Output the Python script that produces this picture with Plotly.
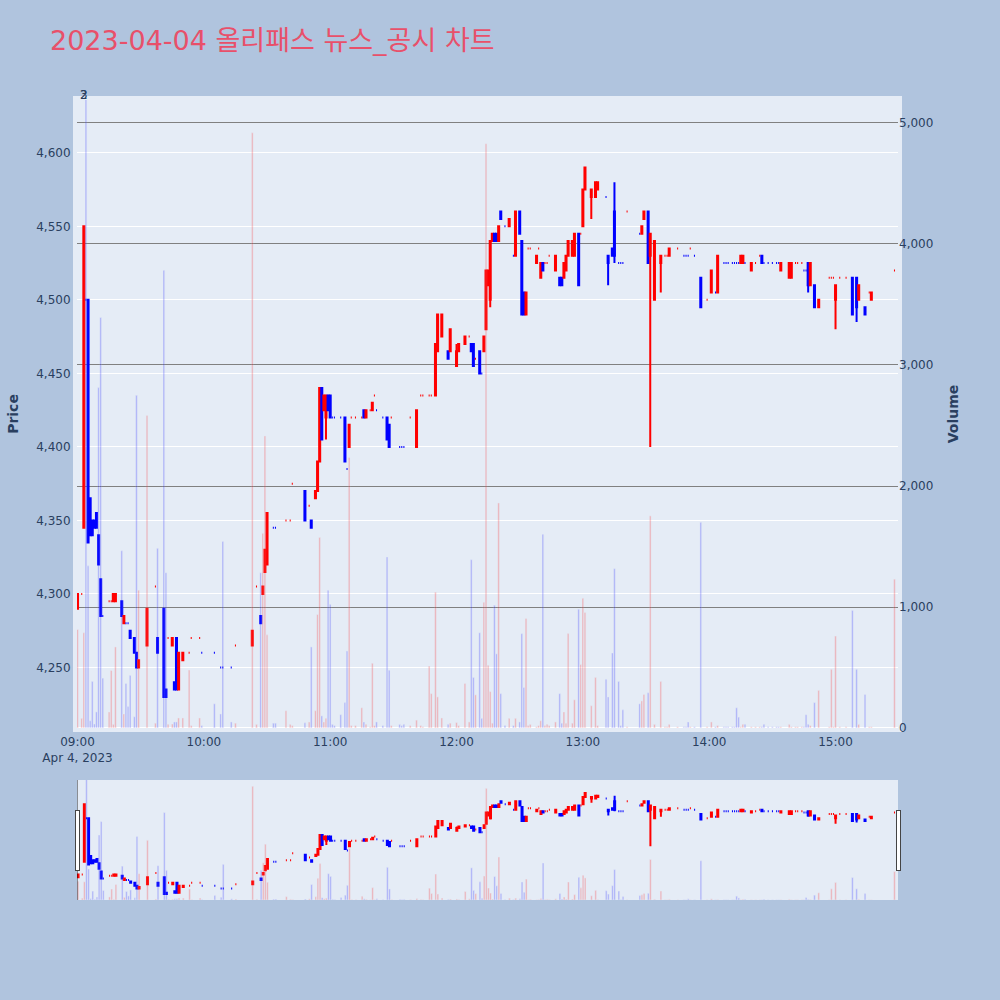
import plotly.graph_objects as go
from plotly.subplots import make_subplots

DAY = '2023-04-04'

# 1분봉 (거래 있는 분만)
times = [
    '09:00', '09:02', '09:03', '09:04', '09:05', '09:06', '09:07', '09:08', '09:09', '09:10',
    '09:11', '09:12', '09:15', '09:16', '09:17', '09:18', '09:21', '09:22', '09:23', '09:24',
    '09:25', '09:27', '09:28', '09:29', '09:33', '09:37', '09:38', '09:41', '09:42', '09:43',
    '09:45', '09:46', '09:47', '09:48', '09:50', '09:53', '09:54', '09:58', '09:59', '10:05',
    '10:08', '10:09', '10:13', '10:15', '10:23', '10:25', '10:27', '10:28', '10:29', '10:30',
    '10:33', '10:34', '10:39', '10:41', '10:42', '10:48', '10:50', '10:51', '10:53', '10:54',
    '10:55', '10:56', '10:57', '10:58', '10:59', '11:00', '11:01', '11:02', '11:05', '11:07',
    '11:08', '11:09', '11:10', '11:12', '11:15', '11:16', '11:17', '11:19', '11:20', '11:21',
    '11:22', '11:25', '11:27', '11:28', '11:29', '11:33', '11:34', '11:35', '11:38', '11:41',
    '11:43', '11:44', '11:47', '11:48', '11:50', '11:51', '11:53', '11:56', '11:57', '12:00',
    '12:01', '12:04', '12:06', '12:07', '12:08', '12:09', '12:11', '12:12', '12:13', '12:14',
    '12:15', '12:16', '12:17', '12:18', '12:19', '12:20', '12:21', '12:23', '12:25', '12:27',
    '12:28', '12:30', '12:31', '12:32', '12:33', '12:34', '12:35', '12:38', '12:39', '12:40',
    '12:41', '12:42', '12:43', '12:44', '12:47', '12:49', '12:50', '12:51', '12:52', '12:53',
    '12:55', '12:56', '12:58', '12:59', '13:00', '13:01', '13:04', '13:06', '13:07', '13:11',
    '13:12', '13:14', '13:15', '13:17', '13:18', '13:19', '13:21', '13:27', '13:28', '13:29',
    '13:31', '13:32', '13:34', '13:37', '13:39', '13:40', '13:41', '13:45', '13:48', '13:49',
    '13:50', '13:51', '13:53', '13:56', '13:59', '14:01', '14:03', '14:04', '14:07', '14:08',
    '14:09', '14:11', '14:12', '14:13', '14:14', '14:15', '14:16', '14:17', '14:20', '14:22',
    '14:24', '14:25', '14:26', '14:28', '14:30', '14:32', '14:33', '14:34', '14:38', '14:39',
    '14:41', '14:42', '14:44', '14:45', '14:46', '14:47', '14:48', '14:50', '14:52', '14:57',
    '14:58', '14:59', '15:00', '15:02', '15:05', '15:08', '15:10', '15:11', '15:14', '15:16',
    '15:17', '15:28',
]

opens = [
    4290, 4300, 4345, 4500, 4500, 4365, 4350, 4350, 4355, 4340,
    4310, 4285, 4295, 4295, 4295, 4295, 4295, 4280, 4280, 4280,
    4275, 4270, 4260, 4250, 4265, 4305, 4270, 4290, 4235, 4270,
    4265, 4240, 4270, 4235, 4255, 4260, 4270, 4270, 4260, 4260,
    4250, 4250, 4250, 4265, 4265, 4305, 4285, 4300, 4315, 4320,
    4345, 4345, 4350, 4350, 4375, 4370, 4360, 4350, 4365, 4370,
    4390, 4440, 4425, 4420, 4435, 4435, 4420, 4420, 4420, 4420,
    4385, 4400, 4420, 4420, 4420, 4425, 4420, 4425, 4425, 4435,
    4425, 4420, 4420, 4415, 4420, 4400, 4400, 4400, 4420, 4400,
    4435, 4435, 4435, 4435, 4435, 4465, 4475, 4465, 4465, 4455,
    4465, 4470, 4475, 4470, 4470, 4460, 4465, 4450, 4465, 4480,
    4510, 4500, 4540, 4545, 4545, 4540, 4560, 4550, 4550, 4530,
    4530, 4560, 4540, 4505, 4490, 4535, 4535, 4525, 4535, 4515,
    4525, 4525, 4525, 4530, 4520, 4515, 4515, 4515, 4520, 4530,
    4530, 4530, 4545, 4545, 4550, 4575, 4570, 4570, 4575, 4570,
    4530, 4535, 4560, 4525, 4525, 4525, 4560, 4545, 4545, 4555,
    4560, 4530, 4500, 4525, 4530, 4530, 4530, 4535, 4530, 4530,
    4530, 4535, 4530, 4515, 4500, 4505, 4505, 4505, 4525, 4525,
    4525, 4525, 4525, 4525, 4525, 4525, 4525, 4525, 4520, 4525,
    4530, 4530, 4525, 4525, 4525, 4525, 4525, 4520, 4515, 4515,
    4525, 4525, 4525, 4520, 4520, 4525, 4510, 4510, 4495, 4515,
    4515, 4515, 4500, 4515, 4515, 4515, 4515, 4500, 4495, 4505,
    4500, 4520,
]

highs = [
    4300, 4300, 4550, 4500, 4500, 4365, 4350, 4350, 4355, 4340,
    4310, 4285, 4295, 4295, 4300, 4300, 4295, 4285, 4280, 4280,
    4275, 4270, 4260, 4255, 4290, 4305, 4270, 4290, 4235, 4270,
    4270, 4240, 4270, 4260, 4260, 4260, 4270, 4270, 4260, 4260,
    4250, 4250, 4250, 4265, 4275, 4305, 4285, 4305, 4330, 4355,
    4345, 4345, 4350, 4350, 4375, 4370, 4360, 4350, 4370, 4390,
    4440, 4440, 4435, 4435, 4435, 4435, 4420, 4420, 4420, 4420,
    4385, 4415, 4420, 4420, 4420, 4425, 4425, 4425, 4430, 4435,
    4425, 4420, 4420, 4415, 4420, 4400, 4400, 4400, 4420, 4425,
    4435, 4435, 4435, 4435, 4470, 4490, 4490, 4465, 4480, 4470,
    4470, 4475, 4475, 4470, 4470, 4460, 4465, 4450, 4475, 4520,
    4520, 4540, 4545, 4545, 4545, 4550, 4560, 4550, 4555, 4530,
    4560, 4560, 4540, 4505, 4505, 4535, 4535, 4530, 4535, 4525,
    4525, 4525, 4525, 4530, 4530, 4515, 4515, 4525, 4530, 4540,
    4540, 4545, 4545, 4545, 4575, 4590, 4575, 4580, 4580, 4570,
    4530, 4535, 4580, 4525, 4525, 4525, 4560, 4545, 4550, 4560,
    4560, 4545, 4540, 4530, 4530, 4530, 4535, 4535, 4530, 4530,
    4530, 4535, 4530, 4515, 4500, 4520, 4505, 4530, 4525, 4525,
    4525, 4525, 4525, 4525, 4525, 4530, 4530, 4525, 4525, 4525,
    4530, 4530, 4525, 4525, 4525, 4525, 4525, 4525, 4525, 4525,
    4525, 4525, 4525, 4520, 4520, 4525, 4525, 4510, 4500, 4515,
    4515, 4515, 4510, 4515, 4515, 4515, 4515, 4510, 4495, 4505,
    4505, 4520,
]

lows = [
    4290, 4300, 4345, 4500, 4335, 4340, 4340, 4345, 4345, 4320,
    4285, 4285, 4295, 4295, 4295, 4295, 4285, 4280, 4280, 4280,
    4270, 4260, 4250, 4250, 4265, 4305, 4260, 4230, 4230, 4270,
    4265, 4235, 4235, 4235, 4255, 4260, 4270, 4270, 4260, 4260,
    4250, 4250, 4250, 4265, 4265, 4305, 4280, 4300, 4315, 4320,
    4345, 4345, 4350, 4350, 4375, 4350, 4360, 4345, 4365, 4370,
    4390, 4405, 4425, 4405, 4425, 4420, 4420, 4420, 4420, 4390,
    4385, 4400, 4420, 4420, 4420, 4420, 4420, 4425, 4425, 4435,
    4425, 4420, 4405, 4400, 4420, 4400, 4400, 4400, 4420, 4400,
    4435, 4435, 4435, 4435, 4435, 4465, 4475, 4460, 4465, 4455,
    4465, 4470, 4475, 4465, 4455, 4460, 4450, 4450, 4465, 4480,
    4510, 4495, 4540, 4540, 4540, 4540, 4555, 4550, 4550, 4530,
    4530, 4545, 4490, 4490, 4490, 4535, 4535, 4525, 4535, 4515,
    4520, 4525, 4525, 4530, 4520, 4510, 4510, 4515, 4520, 4530,
    4530, 4530, 4510, 4545, 4550, 4575, 4555, 4570, 4575, 4570,
    4510, 4530, 4525, 4525, 4525, 4525, 4560, 4545, 4545, 4555,
    4525, 4400, 4500, 4505, 4530, 4530, 4530, 4535, 4530, 4530,
    4530, 4535, 4530, 4495, 4500, 4505, 4505, 4505, 4525, 4525,
    4525, 4525, 4525, 4525, 4525, 4525, 4525, 4525, 4520, 4525,
    4530, 4525, 4525, 4525, 4525, 4525, 4525, 4520, 4515, 4515,
    4525, 4525, 4525, 4520, 4520, 4505, 4510, 4495, 4495, 4515,
    4515, 4515, 4480, 4515, 4515, 4490, 4485, 4500, 4490, 4505,
    4500, 4520,
]

closes = [
    4300, 4300, 4550, 4500, 4335, 4340, 4340, 4345, 4345, 4320,
    4285, 4285, 4295, 4295, 4300, 4300, 4285, 4285, 4280, 4280,
    4270, 4260, 4250, 4255, 4290, 4305, 4260, 4230, 4230, 4270,
    4270, 4235, 4235, 4260, 4260, 4260, 4270, 4270, 4260, 4260,
    4250, 4250, 4250, 4265, 4275, 4305, 4280, 4305, 4330, 4355,
    4345, 4345, 4350, 4350, 4375, 4350, 4360, 4345, 4370, 4390,
    4440, 4405, 4435, 4435, 4425, 4420, 4420, 4420, 4420, 4390,
    4385, 4415, 4420, 4420, 4420, 4420, 4425, 4425, 4430, 4435,
    4425, 4420, 4405, 4400, 4420, 4400, 4400, 4400, 4420, 4425,
    4435, 4435, 4435, 4435, 4470, 4490, 4490, 4460, 4480, 4465,
    4470, 4475, 4475, 4465, 4455, 4460, 4450, 4450, 4475, 4520,
    4520, 4540, 4545, 4540, 4540, 4550, 4555, 4550, 4555, 4530,
    4560, 4545, 4490, 4490, 4505, 4535, 4535, 4530, 4535, 4525,
    4520, 4525, 4525, 4530, 4530, 4510, 4510, 4525, 4530, 4540,
    4540, 4545, 4510, 4545, 4575, 4590, 4575, 4580, 4580, 4570,
    4525, 4530, 4530, 4525, 4525, 4525, 4560, 4545, 4550, 4560,
    4525, 4545, 4540, 4530, 4530, 4530, 4535, 4535, 4530, 4530,
    4530, 4535, 4530, 4495, 4500, 4520, 4505, 4530, 4525, 4525,
    4525, 4525, 4525, 4525, 4525, 4530, 4530, 4525, 4525, 4525,
    4530, 4525, 4525, 4525, 4525, 4525, 4525, 4525, 4525, 4525,
    4525, 4525, 4525, 4520, 4520, 4510, 4525, 4495, 4500, 4515,
    4515, 4515, 4510, 4515, 4515, 4490, 4495, 4510, 4490, 4505,
    4505, 4520,
]

volumes = [
    814, 80, 787, 5400, 1340, 60, 385, 33, 133, 2813,
    3393, 412, 133, 475, 30, 670, 1465, 116, 368, 177,
    435, 93, 2749, 1139, 2582, 40, 1485, 3782, 1284, 30,
    33, 50, 50, 83, 83, 479, 20, 83, 20, 200,
    116, 1542, 50, 40, 4919, 30, 1283, 1609, 2414, 770,
    40, 40, 143, 30, 20, 43, 50, 670, 143, 938,
    1575, 100, 50, 80, 1139, 1022, 30, 20, 110, 210,
    636, 2236, 20, 20, 167, 50, 30, 10, 535, 20,
    50, 20, 1414, 478, 20, 30, 20, 30, 20, 65,
    20, 10, 512, 284, 1123, 257, 83, 30, 40, 45,
    20, 368, 50, 1391, 418, 274, 787, 80, 1039, 4829,
    519, 301, 40, 1015, 613, 1860, 284, 20, 80, 20,
    80, 50, 780, 335, 905, 20, 30, 10, 20, 60,
    1602, 20, 30, 20, 50, 284, 40, 133, 40, 780,
    40, 233, 982, 525, 1072, 955, 184, 418, 20, 402,
    257, 620, 1317, 385, 20, 150, 10, 200, 224, 277,
    291, 1753, 30, 385, 10, 10, 30, 10, 10, 10,
    50, 10, 10, 1700, 10, 50, 10, 20, 10, 10,
    10, 10, 10, 167, 90, 10, 30, 30, 10, 10,
    10, 10, 30, 10, 10, 10, 10, 10, 30, 10,
    10, 10, 10, 10, 110, 30, 20, 210, 311, 10,
    485, 10, 760, 10, 10, 972, 485, 30, 277, 10,
    10, 1230,
]

# 뉴스/공시 표시
news_times = ['09:03', '09:03']
news_labels = ['2', '3']

x = [f'{DAY} {t}:00' for t in times]

# 거래량 색: 캔들 방향 (시가=종가면 직전 종가와 비교)
vol_colors = []
rising = True
prev = None
for o, c in zip(opens, closes):
    if c != o:
        rising = c > o
    elif prev is not None and c != prev:
        rising = c > prev
    vol_colors.append('red' if rising else 'blue')
    prev = c

BG = '#E5ECF6'

fig = make_subplots(specs=[[{'secondary_y': True}]])

fig.add_trace(go.Candlestick(
    x=x, open=opens, high=highs, low=lows, close=closes,
    increasing=dict(line=dict(color='red'), fillcolor='red'),
    decreasing=dict(line=dict(color='blue'), fillcolor='blue'),
    name='Price'
), secondary_y=False)

fig.add_trace(go.Bar(
    x=x, y=volumes,
    marker_color=vol_colors,
    opacity=0.25,
    name='Volume'
), secondary_y=True)

for t, lab in zip(news_times, news_labels):
    fig.add_annotation(
        x=f'{DAY} {t}:00', y=1, xref='x', yref='paper',
        text=lab, showarrow=False, yanchor='bottom', yshift=-4,
        font=dict(size=12, color='#2a3f5f')
    )

fig.update_layout(
    template='plotly',
    width=1000, height=1000,
    paper_bgcolor='lightsteelblue',
    plot_bgcolor=BG,
    font=dict(family='DejaVu Sans, Noto Sans CJK JP', size=12),
    title=dict(text='2023-04-04 올리패스 뉴스_공시 차트', x=0.05,
               font=dict(size=27, color='#E8506A',
                         family='DejaVu Sans, Noto Sans CJK JP')),
    margin=dict(l=77, r=102, t=100, b=100),
    showlegend=False
)

fig.update_xaxes(
    domain=[0, 1],
    range=[f'{DAY} 08:59:45', f'{DAY} 15:29:40'],
    showgrid=False,
    rangeslider=dict(visible=True, thickness=0.15, bgcolor=BG),
    showline=True, linewidth=4, linecolor=BG, mirror=True
)
fig.update_yaxes(
    title_text='<b>Price</b>', tickformat=',',
    range=[min(lows) * 0.995, max(highs) * 1.01],
    showline=True, linewidth=4, linecolor=BG, mirror=True,
    automargin=False,
    secondary_y=False
)
fig.update_yaxes(
    title_text='<b>Volume</b>', tickformat=',',
    range=[0, 5190], showgrid=True, gridcolor='gray',
    automargin=False,
    secondary_y=True
)

fig.write_html('out.html', config={'displayModeBar': False}, post_script=(
    "document.body.style.margin='0';"
    "document.documentElement.style.overflow='hidden';"
))
